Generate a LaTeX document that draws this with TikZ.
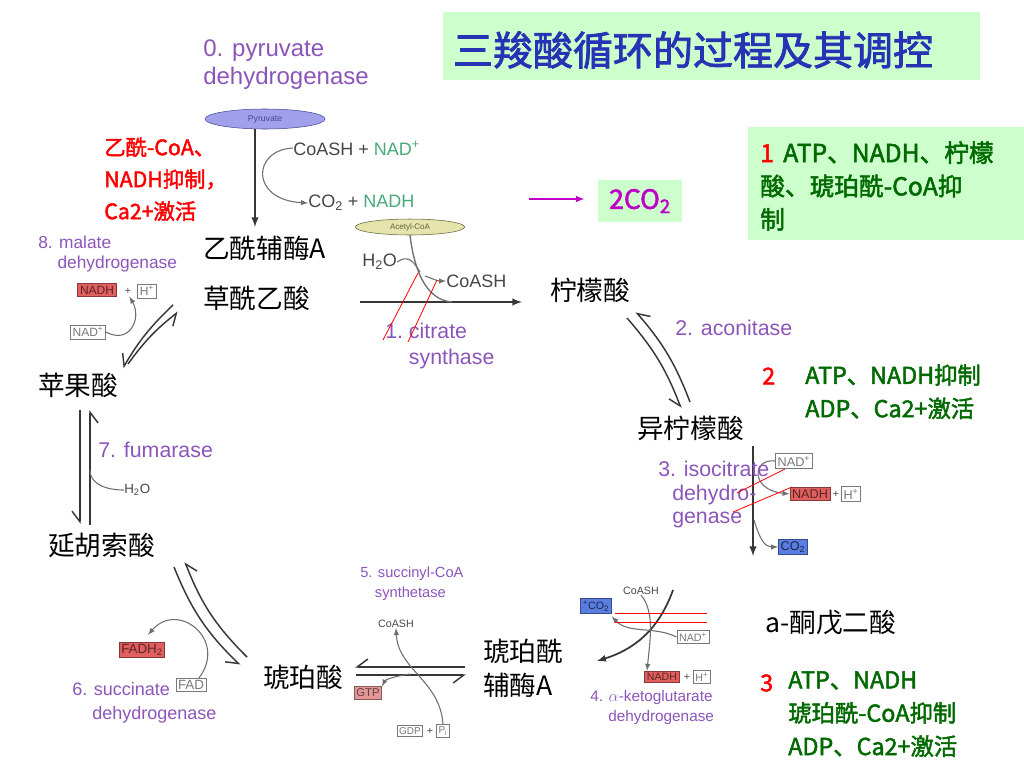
\documentclass[tikz,border=0pt]{standalone}
\usepackage{fontspec}
\setmainfont{Liberation Sans}
\newfontfamily\cjk{Noto Sans CJK SC}
\newfontfamily\cjkb[FakeBold=2]{Noto Sans CJK SC}
\usetikzlibrary{arrows.meta,shapes.geometric,positioning,calc}

\definecolor{boxgreen}{RGB}{204,255,204}
\definecolor{titleblue}{RGB}{40,50,180}
\definecolor{darkgreen}{RGB}{0,105,0}
\definecolor{magco}{RGB}{190,0,200}
\definecolor{enzpurple}{RGB}{140,85,185}
\definecolor{nadgreen}{RGB}{70,170,120}
\definecolor{lblgray}{RGB}{70,70,70}
\definecolor{boxline}{RGB}{120,120,120}
\definecolor{nadhred}{RGB}{225,95,95}
\definecolor{co2blue}{RGB}{90,125,225}
\definecolor{gtpfill}{RGB}{228,150,150}
\definecolor{pyrfill}{RGB}{160,160,235}
\definecolor{pyrline}{RGB}{70,70,150}
\definecolor{acfill}{RGB}{228,228,172}
\definecolor{acline}{RGB}{100,100,60}
\definecolor{mainline}{RGB}{55,55,55}
\definecolor{cofline}{RGB}{110,110,110}

\tikzset{
  met/.style={font=\cjk\fontsize{20}{25.5}\selectfont, inner sep=0pt, anchor=west},
  enz/.style={text=enzpurple, font=\fontsize{16}{19}\selectfont, align=left, inner sep=0pt, anchor=north west},
  lbl/.style={text=lblgray, font=\fontsize{13.5}{15}\selectfont, inner sep=0pt},
  tiny/.style={text=lblgray, font=\fontsize{8}{9}\selectfont, inner sep=0pt},
  cbox/.style={draw=boxline, fill=white, text=boxline, font=\fontsize{8}{9}\selectfont, inner sep=1.6pt, line width=0.6pt},
  nadhbox/.style={cbox, fill=nadhred, draw=nadhred!60!black, text=nadhred!40!black},
  gtpbox/.style={cbox, fill=gtpfill, draw=gtpfill!60!black, text=gtpfill!45!black},
  co2box/.style={cbox, fill=co2blue, draw=co2blue!60!black, text=co2blue!30!black},
  big/.style={font=\fontsize{9.5}{10}\selectfont},
  reg/.style={font=\cjkb\fontsize{17.5}{25}\selectfont, text=darkgreen, align=left, inner sep=0pt, anchor=north west},
  regnum/.style={font=\cjkb\fontsize{17.5}{25}\selectfont, text=red, inner sep=0pt, anchor=west},
  mainarr/.style={draw=mainline, line width=1.5pt, -latex},
  harp/.style={draw=mainline, line width=1.1pt, -{Straight Barb[harpoon, swap, length=8pt, width=12pt]}},
  cof/.style={draw=cofline, line width=0.8pt},
  redline/.style={draw=red, line width=0.6pt}
}

\begin{document}
\begin{tikzpicture}[x=0.75pt, y=-0.75pt]
\useasboundingbox (0,0) rectangle (1024,768);

% title
\node[fill=boxgreen, minimum width=403pt, minimum height=51pt, inner sep=0pt] (titlebox) at (711.5,46) {};
\node[font=\cjkb\fontsize{30}{32}\selectfont, text=titleblue] (title) at (693,50) {三羧酸循环的过程及其调控};

% regulation notes
\node[fill=boxgreen, minimum width=207pt, minimum height=84.75pt, inner sep=0pt] (reg1box) at (886,183.5) {};
\node[reg, font=\cjkb\fontsize{18.5}{25}\selectfont] (reg1) at (760,141) {\textcolor{red}{1}\hspace{7pt}ATP、NADH、柠檬\\酸、琥珀酰-CoA抑\\制};
\node[regnum] (r2num) at (762,376) {2};
\node[reg] (reg2) at (805,364) {ATP、NADH抑制\\ADP、Ca2+激活};
\node[regnum] (r3num) at (760,683) {3};
\node[reg] (reg3) at (788,671) {ATP、NADH\\琥珀酰-CoA抑制\\ADP、Ca2+激活};

% 2CO2
\node[fill=boxgreen, minimum width=63pt, minimum height=31pt, inner sep=0pt, text=magco, font=\cjkb\fontsize{20}{22}\selectfont] (co2) at (640,201) {2CO\textsubscript{2}};
\coordinate (magstart) at (529,199);
\draw[magco, line width=1.2pt, -latex, shorten >=10pt] (magstart) -- (magstart -| co2.west);

% 0. pyruvate dehydrogenase
\node[enz, font=\fontsize{18}{21}\selectfont] (pdh) at (203,39) {0. pyruvate\\dehydrogenase};
\node[ellipse, draw=pyrline, fill=pyrfill, minimum width=90pt, minimum height=15pt, inner sep=0pt, font=\fontsize{6.5}{7}\selectfont, text=pyrline] (pyr) at (265,119) {Pyruvate};
\coordinate (pdhend) at (255,227);
\draw[mainarr] (pyr.south -| pdhend) -- (pdhend);
\node[lbl, anchor=west] (pdhin) at (293,148) {CoASH + \textcolor{nadgreen}{NAD\textsuperscript{+}}};
\node[lbl, anchor=west] (pdhout) at (308,203) {CO\textsubscript{2} + \textcolor{nadgreen}{NADH}};
\draw[cof, -latex] (pdhin.west) .. controls (252,150) and (250,200) .. (pdhout.west);
\node[font=\cjkb\fontsize{16}{24}\selectfont, text=red, align=left, inner sep=0pt, anchor=north west] (pdhreg) at (104,137) {乙酰-CoA、\\NADH抑制，\\Ca2+激活};

% metabolites
\node[met] (acoa) at (203,248) {乙酰辅酶A};
\node[met] (oaa) at (203,298) {草酰乙酸};
\node[met] (cit) at (550,290) {柠檬酸};
\node[met] (icit) at (637,428) {异柠檬酸};
\node[met] (akg) at (765,623) {a-酮戊二酸};
\node[met, align=left, anchor=north west] (sccoa) at (483,639) {琥珀酰\\辅酶A};
\node[met] (succ) at (263,677) {琥珀酸};
\node[met] (fum) at (48,545) {延胡索酸};
\node[met] (mal) at (38,385) {苹果酸};

% 1. citrate synthase
\node[ellipse, draw=acline, fill=acfill, minimum width=82pt, minimum height=12pt, inner sep=0pt, font=\fontsize{6}{7}\selectfont, text=acline] (accoa) at (410,227) {Acetyl-CoA};
\coordinate (csstart) at (360,302);
\coordinate (csend) at (522,302);
\coordinate (csjoin) at (452,302);
\coordinate (cssplit) at (420,272);
\coordinate (cssplit2) at (425,276);
\draw[mainarr] (csstart) -- (csend);
\draw[cof, line width=1pt] (accoa.south) .. controls (414,268) and (425,300) .. (csjoin);
\node[lbl, anchor=west] (h2o1) at (362,262) {H\textsubscript{2}O};
\draw[cof] (h2o1.east) .. controls (408,254) and (414,262) .. (cssplit);
\node[lbl, anchor=west] (coash1) at (446,281) {CoASH};
\draw[cof, -latex] (cssplit2) to[out=-20, in=180] (coash1.west);
\node[enz] (cs) at (385,323) {1.~citrate\\\hphantom{1.~}synthase};
\draw[redline] (418,273) -- (383,340);
\draw[redline] (437,280) -- (408,342);

% 2. aconitase
\coordinate (acoA) at (627,318);
\coordinate (acoB) at (681,408);
\coordinate (acoC) at (690,402);
\coordinate (acoD) at (636,312);
\draw[harp] (acoA) to[bend left=10] (acoB);
\draw[harp] (acoC) to[bend right=10] (acoD);
\node[enz, anchor=west] (acon) at (675,328) {2. aconitase};

% 3. isocitrate dehydrogenase
\coordinate (icdtop) at (753,446);
\coordinate (icdend) at (753,556);
\coordinate (icdsplit) at (754,520);
\draw[mainarr] (icdtop) -- (icdend);
\node[cbox, big] (nad3) at (794,461) {NAD\textsuperscript{+}};
\node[nadhbox, big] (nadh3) at (810,494) {NADH};
\node[tiny] (plus3) at (836,494) {+};
\node[cbox, big] (h3) at (851,494) {H\textsuperscript{+}};
\node[co2box, big] (co2b3) at (793,547) {CO\textsubscript{2}};
\draw[cof, -latex] (nad3.west) .. controls (752,458) and (750,490) .. (nadh3.west);
\draw[cof, -latex] (icdsplit) .. controls (760,540) and (765,547) .. (co2b3.west);
\node[enz, font=\fontsize{16}{17.5}\selectfont] (icd) at (658,461) {3. isocitrate\\\hspace*{10.5pt}dehydro-\\\hspace*{10.5pt}genase};
\draw[redline] (785,469) -- (737,493);
\draw[redline] (792,487) -- (733,512);

% 4. alpha-ketoglutarate dehydrogenase
\coordinate (akgtop) at (673,590);
\coordinate (akgend) at (597,661);
\draw[mainarr, line width=1.3pt] (akgtop) .. controls (658,632) and (632,650) .. (akgend);
\node[tiny] (coash4) at (641,591) {CoASH};
\node[co2box] (co2b4) at (596,606) {\textsuperscript{+}CO\textsubscript{2}};
\node[cbox] (nad4) at (693,637) {NAD\textsuperscript{+}};
\node[nadhbox] (nadh4) at (662,677) {NADH};
\node[tiny] (plus4) at (687,677) {+};
\node[cbox] (h4) at (702,677) {H\textsuperscript{+}};
\draw[cof, -latex] (coash4.south) .. controls (655,612) and (650,640) .. ([xshift=2pt]nadh4.north west);
\draw[cof, -latex] (nad4.west) .. controls (655,626) and (628,634) .. ([yshift=-2pt]co2b4.south east);
\draw[redline] (615,613) -- (707,613);
\draw[redline] (615,622) -- (707,622);
\node[enz, font=\fontsize{11.5}{15}\selectfont] (akgdh) at (590,690) {4. $\alpha$-ketoglutarate\\\hspace*{13.5pt}dehydrogenase};

% 5. succinyl-CoA synthetase
\coordinate (scsA) at (465,667);
\coordinate (scsB) at (355,667);
\coordinate (scsC) at (356,675);
\coordinate (scsD) at (466,675);
\coordinate (scssplit) at (410,674);
\draw[harp] (scsA) -- (scsB);
\draw[harp] (scsC) -- (scsD);
\node[tiny] (coash5) at (396,624) {CoASH};
\node[gtpbox, font=\fontsize{8.5}{9}\selectfont] (gtp) at (368,693) {GTP};
\node[cbox, font=\fontsize{7.5}{8}\selectfont, inner sep=1.2pt] (gdp) at (410,731) {GDP};
\node[tiny] (plus5) at (430,731) {+};
\node[cbox, font=\fontsize{7.5}{8}\selectfont, inner sep=1.4pt] (pi5) at (443,731) {P\textsubscript{i}};
\draw[cof, -latex] (pi5.north) .. controls (440,680) and (398,670) .. (coash5.south);
\draw[cof, -latex] (scssplit) .. controls (395,676) and (385,680) .. (gtp.north east);
\node[enz, font=\fontsize{11}{15}\selectfont] (scs) at (360,567) {5. succinyl-CoA\\\hspace*{11pt}synthetase};

% 6. succinate dehydrogenase
\coordinate (sdhA) at (247,657);
\coordinate (sdhB) at (185,562);
\coordinate (sdhC) at (174,567);
\coordinate (sdhD) at (240,665);
\draw[harp] (sdhA) to[bend left=12] (sdhB);
\draw[harp] (sdhC) to[bend right=12] (sdhD);
\node[nadhbox, font=\fontsize{10}{11}\selectfont] (fadh2) at (142,650) {FADH\textsubscript{2}};
\node[cbox, font=\fontsize{10}{11}\selectfont] (fad) at (191,685) {FAD};
\draw[cof, -latex, shorten >=7pt] ([xshift=6pt]fad.north) .. controls (228,640) and (178,600) .. (fadh2.north);
\node[enz, font=\fontsize{13.5}{18}\selectfont] (sdh) at (72,682) {6. succinate\\\hphantom{6.~}dehydrogenase};

% 7. fumarase
\coordinate (fumA) at (90,525);
\coordinate (fumB) at (90,410);
\coordinate (fumC) at (80,410);
\coordinate (fumD) at (80,524);
\coordinate (fumsplit) at (90,470);
\draw[harp] (fumA) -- (fumB);
\draw[harp] (fumC) -- (fumD);
\node[lbl, font=\fontsize{10}{11}\selectfont, anchor=west] (h2o7) at (124,490) {H\textsubscript{2}O};
\draw[cof] (fumsplit) to[out=-90, in=180] (h2o7.west);
\node[enz, anchor=west] (fumase) at (98,450) {7. fumarase};

% 8. malate dehydrogenase
\coordinate (mdhA) at (128,364);
\coordinate (mdhB) at (178,312);
\coordinate (mdhC) at (173,305);
\coordinate (mdhD) at (123,368);
\draw[harp] (mdhA) to[bend left=8] (mdhB);
\draw[harp] (mdhC) to[bend right=8] (mdhD);
\node[nadhbox, font=\fontsize{9}{10}\selectfont] (nadh8) at (97,290) {NADH};
\node[tiny] (plus8) at (128,291) {+};
\node[cbox, font=\fontsize{9}{10}\selectfont] (h8) at (147,291) {H\textsuperscript{+}};
\node[cbox, font=\fontsize{9}{10}\selectfont] (nad8) at (88,332) {NAD\textsuperscript{+}};
\draw[cof, -latex, shorten >=2pt] (nad8.east) .. controls (130,345) and (142,318) .. (plus8.south);
\node[enz, font=\fontsize{13}{15}\selectfont] (mdh) at (38,236) {8. malate\\\hphantom{8.~}dehydrogenase};

\end{tikzpicture}
\end{document}
